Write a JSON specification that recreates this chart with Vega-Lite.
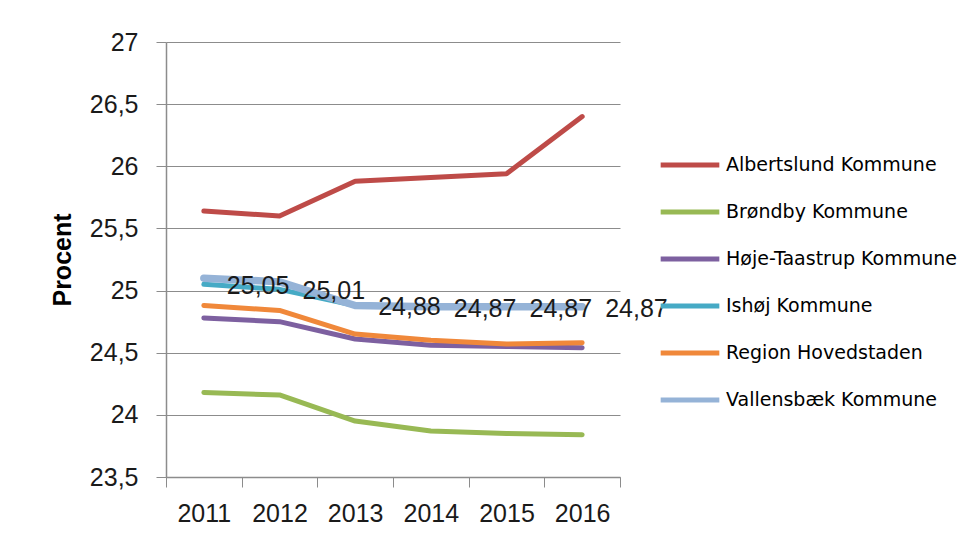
{
  "$schema": "https://vega.github.io/schema/vega-lite/v6.json",
  "width": 454,
  "height": 435,
  "autosize": {"type": "none"},
  "padding": {"left": 166, "top": 42, "right": 356, "bottom": 67},
  "background": "white",
  "title": {
    "text": "Figur 21:\u00a0\u00a0\u00a0\u00a0\u00a0\u00a0\u00a0\u00a0Beskatningsniveau (pct.)",
    "anchor": "start",
    "frame": "group",
    "baseline": "alphabetic",
    "offset": 38,
    "dx": -166,
    "font": "DejaVu Sans",
    "fontWeight": "bold",
    "fontSize": 17,
    "color": "#000000"
  },
  "config": {
    "locale": {"number": {"decimal": ",", "thousands": ".", "grouping": [3], "currency": ["", " kr."]}},
    "view": {"stroke": null},
    "font": "Liberation Sans"
  },
  "data": {
    "values": [
      {"kommune": "Albertslund Kommune", "year": "2011", "value": 25.64},
      {"kommune": "Albertslund Kommune", "year": "2012", "value": 25.60},
      {"kommune": "Albertslund Kommune", "year": "2013", "value": 25.88},
      {"kommune": "Albertslund Kommune", "year": "2014", "value": 25.91},
      {"kommune": "Albertslund Kommune", "year": "2015", "value": 25.94},
      {"kommune": "Albertslund Kommune", "year": "2016", "value": 26.40},
      {"kommune": "Brøndby Kommune", "year": "2011", "value": 24.18},
      {"kommune": "Brøndby Kommune", "year": "2012", "value": 24.16},
      {"kommune": "Brøndby Kommune", "year": "2013", "value": 23.95},
      {"kommune": "Brøndby Kommune", "year": "2014", "value": 23.87},
      {"kommune": "Brøndby Kommune", "year": "2015", "value": 23.85},
      {"kommune": "Brøndby Kommune", "year": "2016", "value": 23.84},
      {"kommune": "Høje-Taastrup Kommune", "year": "2011", "value": 24.78},
      {"kommune": "Høje-Taastrup Kommune", "year": "2012", "value": 24.75},
      {"kommune": "Høje-Taastrup Kommune", "year": "2013", "value": 24.61},
      {"kommune": "Høje-Taastrup Kommune", "year": "2014", "value": 24.56},
      {"kommune": "Høje-Taastrup Kommune", "year": "2015", "value": 24.55},
      {"kommune": "Høje-Taastrup Kommune", "year": "2016", "value": 24.54},
      {"kommune": "Ishøj Kommune", "year": "2011", "value": 25.05},
      {"kommune": "Ishøj Kommune", "year": "2012", "value": 25.01},
      {"kommune": "Ishøj Kommune", "year": "2013", "value": 24.88},
      {"kommune": "Ishøj Kommune", "year": "2014", "value": 24.87},
      {"kommune": "Ishøj Kommune", "year": "2015", "value": 24.87},
      {"kommune": "Ishøj Kommune", "year": "2016", "value": 24.87},
      {"kommune": "Region Hovedstaden", "year": "2011", "value": 24.88},
      {"kommune": "Region Hovedstaden", "year": "2012", "value": 24.84},
      {"kommune": "Region Hovedstaden", "year": "2013", "value": 24.65},
      {"kommune": "Region Hovedstaden", "year": "2014", "value": 24.60},
      {"kommune": "Region Hovedstaden", "year": "2015", "value": 24.57},
      {"kommune": "Region Hovedstaden", "year": "2016", "value": 24.58},
      {"kommune": "Vallensbæk Kommune", "year": "2011", "value": 25.10},
      {"kommune": "Vallensbæk Kommune", "year": "2012", "value": 25.07},
      {"kommune": "Vallensbæk Kommune", "year": "2013", "value": 24.88},
      {"kommune": "Vallensbæk Kommune", "year": "2014", "value": 24.87},
      {"kommune": "Vallensbæk Kommune", "year": "2015", "value": 24.87},
      {"kommune": "Vallensbæk Kommune", "year": "2016", "value": 24.87}
    ]
  },
  "encoding": {
    "x": {
      "field": "year",
      "type": "ordinal",
      "scale": {"type": "band", "paddingInner": 0, "paddingOuter": 0},
      "axis": {
        "title": null,
        "labelAngle": 0,
        "tickBand": "extent",
        "tickSize": 10,
        "tickColor": "#8c8c8c",
        "domainColor": "#8c8c8c",
        "domainWidth": 1.5,
        "labelFont": "Liberation Sans",
        "labelFontSize": 25,
        "labelColor": "#1a1a1a",
        "labelPadding": 14,
        "grid": false
      }
    },
    "y": {
      "field": "value",
      "type": "quantitative",
      "scale": {"domain": [23.5, 27], "nice": false, "zero": false},
      "axis": {
        "title": "Procent",
        "titleFont": "Liberation Sans",
        "titleFontSize": 25,
        "titleFontWeight": "bold",
        "titleColor": "#000000",
        "titlePadding": 14,
        "values": [23.5, 24, 24.5, 25, 25.5, 26, 26.5, 27],
        "format": "~g",
        "labelFont": "Liberation Sans",
        "labelFontSize": 25,
        "labelColor": "#1a1a1a",
        "labelPadding": 18,
        "tickSize": 10,
        "tickColor": "#8c8c8c",
        "domainColor": "#8c8c8c",
        "domainWidth": 1.5,
        "gridColor": "#8c8c8c",
        "gridWidth": 1
      }
    },
    "color": {
      "field": "kommune",
      "type": "nominal",
      "scale": {
        "domain": ["Albertslund Kommune", "Brøndby Kommune", "Høje-Taastrup Kommune", "Ishøj Kommune", "Region Hovedstaden", "Vallensbæk Kommune"],
        "range": ["#BE4B48", "#98B954", "#7D60A0", "#46AAC5", "#F0883A", "#95B3D7"]
      },
      "legend": {
        "title": null,
        "orient": "none",
        "legendX": 514,
        "legendY": 113,
        "padding": 0,
        "symbolType": "M-4,0H4",
        "symbolSize": 215,
        "symbolStrokeWidth": 5,
        "labelFont": "DejaVu Sans",
        "labelFontSize": 19,
        "labelColor": "#000000",
        "labelOffset": 26,
        "rowPadding": 27,
        "labelLimit": 400
      }
    }
  },
  "layer": [
    {
      "transform": [{"filter": "datum.kommune !== 'Vallensbæk Kommune'"}],
      "mark": {"type": "line", "strokeWidth": 5, "strokeCap": "round", "strokeJoin": "round"}
    },
    {
      "transform": [{"filter": "datum.kommune === 'Vallensbæk Kommune'"}],
      "mark": {"type": "line", "strokeWidth": 7.5, "strokeCap": "round", "strokeJoin": "round"}
    },
    {
      "transform": [{"filter": "datum.kommune === 'Ishøj Kommune'"}],
      "mark": {"type": "text", "align": "left", "baseline": "middle", "dx": 23, "dy": 2, "font": "Liberation Sans", "fontSize": 25, "color": "#1a1a1a"},
      "encoding": {
        "text": {"field": "value", "type": "quantitative", "format": ".2f"},
        "color": {"value": "#1a1a1a"}
      }
    }
  ]
}
